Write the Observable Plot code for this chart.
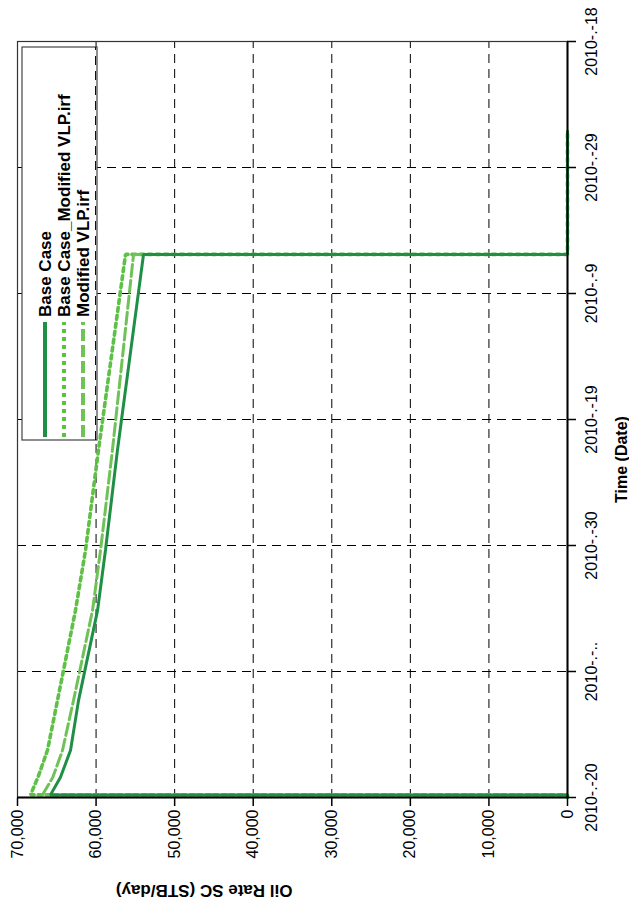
<!DOCTYPE html>
<html><head><meta charset="utf-8">
<script src="https://cdn.jsdelivr.net/npm/d3@7"></script>
<script src="https://cdn.jsdelivr.net/npm/@observablehq/plot@0.6"></script>
<style>
html,body{margin:0;padding:0;background:#fff;overflow:hidden;width:629px;height:906px}
#wrap{position:absolute;left:0;top:0;width:906px;height:629px;transform-origin:0 0;transform:translate(0px,906px) rotate(-90deg);background:#fff}
</style></head>
<body><div id="wrap"></div>
<script>
// ---- data ----
const tickDates = ["2010-04-20","2010-05-10","2010-05-30","2010-06-19","2010-07-09","2010-07-29","2010-08-18"];
const tickLabels = ["2010-.-20","2010-.-..","2010-.-30","2010-.-19","2010-.-9","2010-.-29","2010-.-18"];
const rateTicks = [0,10000,20000,30000,40000,50000,60000,70000];

const times = ["2010-04-20T00:00","2010-04-20T10:00","2010-04-20T10:00","2010-04-23T05:00","2010-04-27T12:00","2010-05-05T10:00","2010-05-19T17:00","2010-05-29T07:00","2010-06-14T05:00","2010-07-15T05:00","2010-07-15T05:00","2010-08-03T17:00"];
const baseCase      = [0,0,65800,64530,63250,62230,59810,58800,57270,53960,0,0];
const baseCaseModVLP= [0,0,68345,67400,66180,64910,62620,61340,59690,56250,0,0];
const modifiedVLP   = [0,0,66820,65500,64270,62870,60450,59430,57910,55230,0,0];

const seriesNames = ["Base Case","Base Case_Modified VLP.irf","Modified VLP.irf"];
const seriesColors = ["#1f8f46","#5ec046","#6fc257"];
const seriesDash = [null,"4,4","12,4"];

// ---- build ----
const P = s => d3.isoParse(s.length === 10 ? s + "T00:00Z" : s + "Z");
const tDates = tickDates.map(P);
const rows = [];
[baseCase, baseCaseModVLP, modifiedVLP].forEach((vals, k) => {
  vals.forEach((v, i) => rows.push({series: seriesNames[k], t: P(times[i]), rate: v}));
});
const lineMark = k => Plot.line(rows.filter(r => r.series === seriesNames[k]), {
  x: "t", y: "rate", stroke: seriesColors[k], strokeWidth: k === 1 ? 3.6 : 3,
  strokeDasharray: seriesDash[k] || undefined, strokeLinejoin: "miter"
});

const font = "'Liberation Sans', Arial, sans-serif";
const chart = Plot.plot({
  width: 906, height: 629,
  marginLeft: 108, marginRight: 42, marginTop: 17, marginBottom: 62,
  style: {fontFamily: font, fontSize: "16px", color: "#000", background: "#fff", overflow: "visible"},
  x: {type: "utc", domain: [tDates[0], tDates[tDates.length - 1]]},
  y: {domain: [0, 70000]},
  marks: [
    Plot.gridX(tDates.slice(1, -1), {stroke: "#000", strokeOpacity: 1, strokeDasharray: "9,6", strokeWidth: 1}),
    Plot.gridY(rateTicks.slice(1, -1), {stroke: "#000", strokeOpacity: 1, strokeDasharray: "9,6", strokeWidth: 1}),
    Plot.frame({stroke: "#333", strokeWidth: 1.2}),
    lineMark(1), lineMark(2), lineMark(0),
    Plot.ruleY([0], {stroke: "#000", strokeWidth: 2}),
    Plot.ruleX([tDates[0]], {stroke: "#000", strokeWidth: 2}),
    Plot.axisX(tDates, {tickFormat: (d, i) => tickLabels[i], tickSize: 9, tickPadding: 9, label: null, fontSize: 16, strokeWidth: 1.5}),
    Plot.axisY(rateTicks, {tickFormat: d3.format(","), tickSize: 8, tickPadding: 4, label: null, fontSize: 16, strokeWidth: 1.5}),
    Plot.text(["Oil Rate SC (STB/day)"], {frameAnchor: "left", dx: -93, rotate: -90, fontWeight: "bold", fontSize: 17}),
    Plot.text(["Time (Date)"], {frameAnchor: "bottom", dx: -40, dy: 59, fontWeight: "bold", fontSize: 16})
  ]
});

// ---- legend ----
const svg = d3.select(chart);
const ys = chart.scale("y");
const lg = svg.append("g").attr("text-anchor", "start");
const bx0 = 466, bx1 = 859, by0 = 22, by1 = 97;
lg.append("rect").attr("x", bx0).attr("y", by0).attr("width", bx1 - bx0).attr("height", by1 - by0)
  .attr("fill", "#fff").attr("stroke", "#444").attr("stroke-width", 1.2);
seriesNames.forEach((name, k) => {
  const yy = 45 + k * 19;
  lg.append("line").attr("x1", 469).attr("x2", 584).attr("y1", yy).attr("y2", yy)
    .attr("stroke", seriesColors[k]).attr("stroke-width", 4)
    .attr("stroke-dasharray", seriesDash[k]);
  lg.append("text").attr("x", 589).attr("y", yy).attr("dy", "0.36em").attr("text-anchor", "start")
    .attr("font-family", font).attr("font-size", 17).attr("font-weight", "bold").attr("fill", "#000")
    .text(name);
});
// grid line passing over legend edge
lg.append("line").attr("x1", bx0).attr("x2", bx1).attr("y1", ys.apply(60000)).attr("y2", ys.apply(60000))
  .attr("stroke", "#000").attr("stroke-dasharray", "9,6");

document.getElementById("wrap").appendChild(chart);
</script>
</body></html>
